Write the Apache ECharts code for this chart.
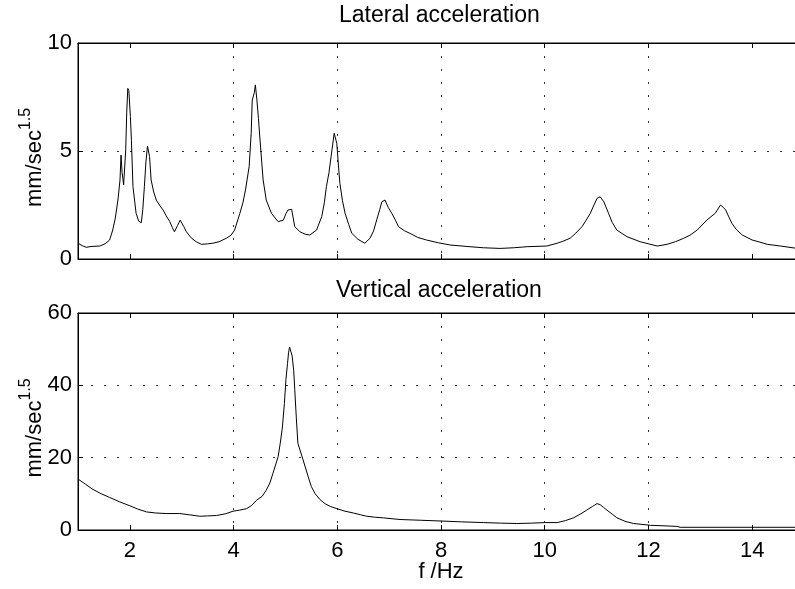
<!DOCTYPE html>
<html>
<head>
<meta charset="utf-8">
<script src="https://cdn.jsdelivr.net/npm/echarts@6/dist/echarts.min.js"></script>
<style>
  html, body { margin: 0; padding: 0; background: #fff; }
  #psd { width: 795px; height: 589px; }
</style>
</head>
<body>
<div id="psd"></div>
<script>
// frequency axis, Hz
var xTicks = [2, 4, 6, 8, 10, 12, 14];

// lateral acceleration spectrum
var latFreq = [1.00, 1.08, 1.16, 1.25, 1.42, 1.52, 1.61, 1.67, 1.72, 1.77, 1.81, 1.83, 1.85, 1.88, 1.92, 1.94, 1.96, 1.98, 2.01, 2.03,
  2.06, 2.12, 2.17, 2.22, 2.25, 2.28, 2.31, 2.34, 2.38, 2.41, 2.46, 2.51, 2.57, 2.64, 2.70, 2.77, 2.82, 2.86, 2.92, 2.97,
  2.99, 3.04, 3.09, 3.19, 3.28, 3.38, 3.50, 3.60, 3.72, 3.86, 3.95, 4.02, 4.12, 4.18, 4.23, 4.30, 4.34, 4.36, 4.38, 4.40,
  4.42, 4.45, 4.48, 4.51, 4.57, 4.63, 4.73, 4.80, 4.86, 4.96, 5.01, 5.05, 5.12, 5.15, 5.18, 5.28, 5.38, 5.47, 5.60, 5.70,
  5.75, 5.79, 5.84, 5.88, 5.94, 5.99, 6.02, 6.05, 6.10, 6.15, 6.22, 6.28, 6.40, 6.53, 6.63, 6.70, 6.76, 6.82, 6.86, 6.92,
  6.98, 7.05, 7.12, 7.18, 7.30, 7.40, 7.55, 7.72, 7.95, 8.17, 8.50, 8.82, 9.14, 9.40, 9.66, 10.04, 10.24, 10.35, 10.49, 10.60,
  10.72, 10.80, 10.88, 10.95, 11.01, 11.07, 11.14, 11.23, 11.30, 11.39, 11.59, 11.84, 12.17, 12.36, 12.52, 12.68, 12.80, 12.94, 13.13, 13.29,
  13.39, 13.44, 13.49, 13.55, 13.61, 13.70, 13.81, 14.00, 14.15, 14.29, 14.55, 14.84, 15.00];
var latAmp = [0.73, 0.62, 0.54, 0.58, 0.60, 0.70, 0.88, 1.34, 1.90, 2.73, 3.66, 4.81, 4.00, 3.43, 5.05, 6.80, 7.90, 7.80, 6.60, 5.50,
  3.35, 2.12, 1.75, 1.68, 2.30, 3.35, 4.50, 5.23, 4.74, 3.66, 3.10, 2.73, 2.50, 2.27, 2.00, 1.73, 1.45, 1.26, 1.55, 1.80,
  1.81, 1.50, 1.26, 0.96, 0.80, 0.68, 0.70, 0.73, 0.80, 0.96, 1.10, 1.34, 2.10, 2.60, 3.20, 4.27, 5.82, 7.36, 7.30, 7.70,
  8.06, 7.36, 6.50, 5.51, 3.66, 2.73, 2.12, 1.90, 1.73, 1.80, 2.10, 2.27, 2.30, 1.90, 1.50, 1.26, 1.15, 1.11, 1.34, 1.96,
  2.60, 3.35, 4.00, 4.74, 5.82, 5.36, 4.40, 3.50, 2.70, 2.12, 1.60, 1.19, 0.91, 0.73, 0.96, 1.30, 1.81, 2.30, 2.65, 2.73,
  2.40, 2.12, 1.80, 1.50, 1.30, 1.19, 1.00, 0.88, 0.75, 0.65, 0.58, 0.52, 0.49, 0.52, 0.57, 0.60, 0.73, 0.82, 0.96, 1.20,
  1.50, 1.80, 2.12, 2.50, 2.81, 2.88, 2.65, 2.12, 1.70, 1.34, 1.03, 0.80, 0.60, 0.68, 0.80, 0.96, 1.10, 1.34, 1.81, 2.12,
  2.50, 2.40, 2.27, 1.95, 1.65, 1.35, 1.11, 0.88, 0.78, 0.68, 0.60, 0.50, 0.50];

// vertical acceleration spectrum
var vertFreq = [1.00, 1.15, 1.29, 1.45, 1.61, 1.80, 2.00, 2.15, 2.32, 2.50, 2.70, 2.96, 3.15, 3.35, 3.50, 3.67, 3.85, 3.99, 4.12, 4.25,
  4.35, 4.44, 4.55, 4.63, 4.70, 4.76, 4.86, 4.90, 4.94, 4.98, 5.01, 5.04, 5.06, 5.08, 5.13, 5.16, 5.18, 5.21, 5.24, 5.34,
  5.44, 5.50, 5.57, 5.66, 5.76, 5.87, 5.99, 6.15, 6.31, 6.45, 6.57, 6.72, 6.89, 7.21, 7.60, 7.98, 8.40, 8.82, 9.15, 9.46,
  9.75, 10.01, 10.24, 10.40, 10.56, 10.70, 10.81, 10.92, 11.01, 11.07, 11.13, 11.20, 11.30, 11.39, 11.55, 11.71, 12.04, 12.30, 12.55, 12.61,
  14.84, 15.00];
var vertAmp = [14.1, 12.6, 11.2, 10.0, 9.0, 7.8, 6.7, 5.8, 5.0, 4.7, 4.55, 4.55, 4.2, 3.8, 3.9, 4.0, 4.5, 5.2, 5.5, 5.9,
  6.8, 8.2, 9.3, 11.0, 13.0, 15.7, 20.3, 24.0, 28.2, 35.0, 41.6, 46.0, 49.0, 50.6, 48.1, 44.0, 38.8, 31.0, 24.0, 19.4,
  14.7, 12.0, 10.1, 8.5, 7.3, 6.5, 5.9, 5.2, 4.7, 4.2, 3.8, 3.55, 3.35, 2.9, 2.7, 2.5, 2.25, 2.05, 1.9, 1.8,
  1.9, 2.05, 2.05, 2.6, 3.4, 4.5, 5.5, 6.5, 7.3, 7.0, 6.3, 5.5, 4.4, 3.4, 2.4, 1.8, 1.3, 1.15, 1.0, 0.75,
  0.75, 0.75];

var latTicks = [0, 5, 10];
var vertTicks = [0, 20, 40, 60];

function pairs(xs, ys) {
  return xs.map(function (x, i) { return [x, ys[i]]; });
}

var FONT = "Liberation Sans";
var dotted = { color: "#333", width: 1, type: [2, 11] };

function xAx(grid, pos, labels, grids) {
  return {
    type: "value", gridIndex: grid, position: pos,
    min: 1, max: 15, interval: 1,
    axisLine: { show: true, onZero: false, lineStyle: { color: "#000", width: 1 } },
    axisTick: { show: true, inside: true, length: 5, lineStyle: { color: "#000" },
      customValues: xTicks },
    axisLabel: { show: labels, margin: 10, fontSize: 22, color: "#000", fontFamily: FONT,
      customValues: xTicks },
    splitLine: { show: grids, lineStyle: dotted, showMinLine: false, showMaxLine: false,
      customValues: xTicks }
  };
}

function yAx(grid, max, ticks) {
  return {
    type: "value", gridIndex: grid, min: 0, max: max, interval: ticks[1] - ticks[0],
    name: "{a|mm/sec}{b|1.5}", nameLocation: "middle", nameRotate: 90, nameGap: 32,
    nameMoveOverlap: false,
    nameTextStyle: {
      color: "#000", fontFamily: FONT, padding: [0, 13, 0, 0],
      rich: {
        a: { fontSize: 22, fontFamily: FONT, color: "#000", verticalAlign: "bottom", lineHeight: 28 },
        b: { fontSize: 16, fontFamily: FONT, color: "#000", verticalAlign: "top", lineHeight: 28 }
      }
    },
    axisLine: { show: true, lineStyle: { color: "#000", width: 1 } },
    axisTick: { show: true, inside: true, length: 5, lineStyle: { color: "#000" } },
    axisLabel: { margin: 6, fontSize: 22, color: "#000", fontFamily: FONT },
    splitLine: { show: true, lineStyle: dotted }
  };
}

var option = {
  animation: false,
  backgroundColor: "#fff",
  graphic: [
    { type: "text", left: 440 - 101, top: 4,
      style: { text: "Lateral acceleration", font: "23px " + FONT, fill: "#000" } },
    { type: "text", left: 442 - 106, top: 279,
      style: { text: "Vertical acceleration", font: "23px " + FONT, fill: "#000" } }
  ],
  grid: [
    { left: 78, width: 726, top: 43, height: 216, show: true, borderColor: "#000", borderWidth: 1,
      containLabel: false, outerBoundsMode: "none" },
    { left: 78, width: 726, top: 313, height: 217, show: true, borderColor: "#000", borderWidth: 1,
      containLabel: false, outerBoundsMode: "none" }
  ],
  xAxis: [
    xAx(0, "bottom", false, true),
    xAx(0, "top", false, false),
    Object.assign(xAx(1, "bottom", true, true), {
      name: "f /Hz", nameLocation: "middle", nameGap: 31, nameMoveOverlap: false,
      nameTextStyle: { fontSize: 22, color: "#000", fontFamily: FONT }
    }),
    xAx(1, "top", false, false)
  ],
  yAxis: [
    yAx(0, 10, latTicks),
    yAx(1, 60, vertTicks)
  ],
  series: [
    { type: "line", xAxisIndex: 0, yAxisIndex: 0, data: pairs(latFreq, latAmp),
      showSymbol: false, lineStyle: { color: "#000", width: 1 } },
    { type: "line", xAxisIndex: 2, yAxisIndex: 1, data: pairs(vertFreq, vertAmp),
      showSymbol: false, lineStyle: { color: "#000", width: 1 } }
  ]
};

var chart = echarts.init(document.getElementById("psd"));
chart.setOption(option);
window.onresize = function () { chart.resize(); };
</script>
</body>
</html>
